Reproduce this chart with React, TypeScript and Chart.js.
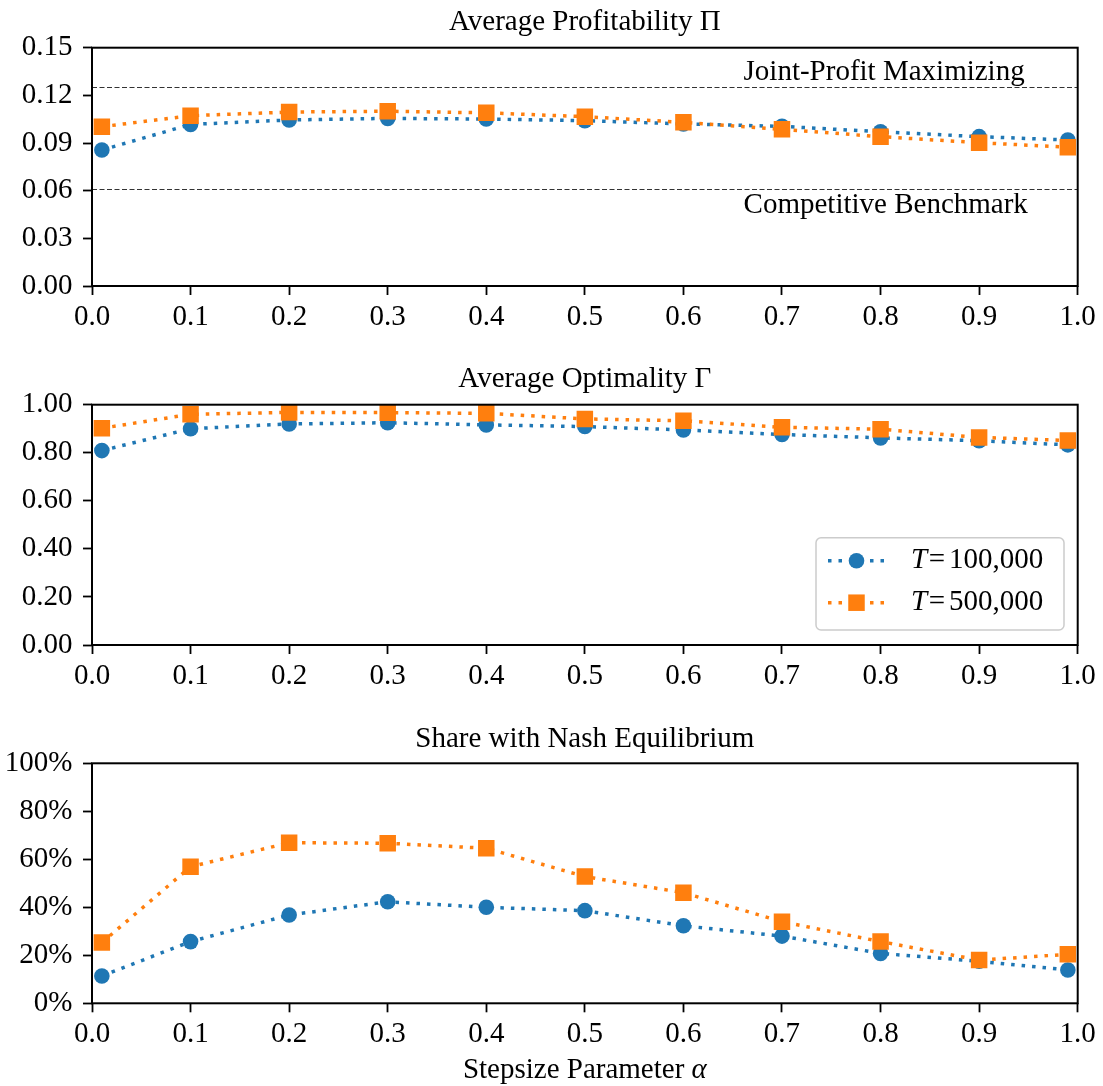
import React, { useEffect, useRef } from "react";
import { Chart, registerables } from "chart.js";

Chart.register(...registerables);

// ---------------- DATA ----------------
const alphas = [0.01, 0.1, 0.2, 0.3, 0.4, 0.5, 0.6, 0.7, 0.8, 0.9, 0.99];

const profitT100k = [0.0856, 0.1017, 0.1045, 0.1055, 0.1051, 0.1041, 0.102, 0.1005, 0.0971, 0.094, 0.0919];
const profitT500k = [0.1003, 0.1072, 0.1095, 0.11, 0.109, 0.1066, 0.103, 0.0986, 0.094, 0.0902, 0.0874];

const optimT100k = [0.809, 0.9, 0.92, 0.925, 0.916, 0.909, 0.895, 0.876, 0.862, 0.85, 0.833];
const optimT500k = [0.902, 0.96, 0.968, 0.967, 0.964, 0.941, 0.933, 0.906, 0.898, 0.864, 0.851];

const nashT100k = [0.114, 0.257, 0.368, 0.423, 0.4, 0.386, 0.323, 0.28, 0.208, 0.175, 0.139];
const nashT500k = [0.253, 0.569, 0.669, 0.667, 0.646, 0.528, 0.461, 0.34, 0.257, 0.18, 0.204];

const jointProfitLevel = 0.1255;
const competitiveLevel = 0.061;

const xTicks = [0, 0.1, 0.2, 0.3, 0.4, 0.5, 0.6, 0.7, 0.8, 0.9, 1.0];
const profitTicks = [0, 0.03, 0.06, 0.09, 0.12, 0.15];
const optimTicks = [0, 0.2, 0.4, 0.6, 0.8, 1.0];
const nashTicks = [0, 0.2, 0.4, 0.6, 0.8, 1.0];

const seriesNames = ["100,000", "500,000"];
const panelTitles = ["Average Profitability \u03A0", "Average Optimality \u0393", "Share with Nash Equilibrium"];
const refLabels = ["Joint-Profit Maximizing", "Competitive Benchmark"];
const xAxisTitle = "Stepsize Parameter ";
const xAxisSymbol = "\u03B1";

// ---------------- STYLE ----------------
const BLUE = "#1f77b4";
const ORANGE = "#ff7f0e";
const FONT = "'Liberation Serif', 'Times New Roman', serif";
const FS = 29;
const LINE_W = 3.5;
const DASH = [3.5, 7];
const CIRCLE_R = 7.8;
const SQUARE_SIDE = 16.5;

type Panel = {
  top: number;
  height: number;
  padTop: number;
  bottomSpace: number;
  blue: number[];
  orange: number[];
  yTicks: number[];
  yMax: number;
  fmt: (v: number) => string;
  title: string;
  titleBaseline: number;
  refLines?: boolean;
  legend?: boolean;
  xTitle?: boolean;
};

const panels: Panel[] = [
  {
    top: 0, height: 340, padTop: 47.7, bottomSpace: 54,
    blue: profitT100k, orange: profitT500k, yTicks: profitTicks, yMax: 0.15,
    fmt: (v) => v.toFixed(2), title: panelTitles[0], titleBaseline: 30, refLines: true,
  },
  {
    top: 340, height: 360, padTop: 64.7, bottomSpace: 55,
    blue: optimT100k, orange: optimT500k, yTicks: optimTicks, yMax: 1.0,
    fmt: (v) => v.toFixed(2), title: panelTitles[1], titleBaseline: 47.3, legend: true,
  },
  {
    top: 700, height: 386, padTop: 63.3, bottomSpace: 82.7,
    blue: nashT100k, orange: nashT500k, yTicks: nashTicks, yMax: 1.0,
    fmt: (v) => `${Math.round(v * 100)}%`, title: panelTitles[2], titleBaseline: 47.3, xTitle: true,
  },
];

function drawMarker(ctx: CanvasRenderingContext2D, kind: "circle" | "rect", x: number, y: number, color: string) {
  ctx.fillStyle = color;
  ctx.beginPath();
  if (kind === "circle") {
    ctx.arc(x, y, CIRCLE_R, 0, Math.PI * 2);
  } else {
    ctx.rect(x - SQUARE_SIDE / 2, y - SQUARE_SIDE / 2, SQUARE_SIDE, SQUARE_SIDE);
  }
  ctx.fill();
}

function makeDecor(p: Panel) {
  return {
    id: "decor",
    beforeDatasetsDraw(chart: any) {
      if (!p.refLines) return;
      const { ctx, chartArea: a } = chart;
      const ys = chart.scales.y;
      ctx.save();
      ctx.strokeStyle = "#333";
      ctx.lineWidth = 1.2;
      ctx.setLineDash([5, 2.5]);
      [jointProfitLevel, competitiveLevel].forEach((lv) => {
        const y = Math.round(ys.getPixelForValue(lv)) + 0.5;
        ctx.beginPath();
        ctx.moveTo(a.left, y);
        ctx.lineTo(a.right, y);
        ctx.stroke();
      });
      ctx.restore();
    },
    afterDatasetsDraw(chart: any) {
      const { ctx, chartArea: a } = chart;
      const xs = chart.scales.x;
      const ys = chart.scales.y;
      ctx.save();
      // frame
      ctx.setLineDash([]);
      ctx.strokeStyle = "#000";
      ctx.lineWidth = 2;
      ctx.strokeRect(a.left, a.top, a.right - a.left, a.bottom - a.top);

      ctx.fillStyle = "#000";
      ctx.textBaseline = "alphabetic";
      // title
      ctx.font = `${FS}px ${FONT}`;
      ctx.textAlign = "center";
      ctx.fillText(p.title, (a.left + a.right) / 2, p.titleBaseline);

      if (p.refLines) {
        ctx.textAlign = "left";
        const tx = xs.getPixelForValue(0.661);
        ctx.fillText(refLabels[0], tx, ys.getPixelForValue(0.1297));
        ctx.fillText(refLabels[1], tx, ys.getPixelForValue(0.0458));
      }

      if (p.xTitle) {
        ctx.font = `${FS}px ${FONT}`;
        const w1 = ctx.measureText(xAxisTitle).width;
        ctx.font = `italic ${FS}px ${FONT}`;
        const w2 = ctx.measureText(xAxisSymbol).width;
        const start = (a.left + a.right) / 2 - (w1 + w2) / 2;
        ctx.textAlign = "left";
        ctx.font = `${FS}px ${FONT}`;
        ctx.fillText(xAxisTitle, start, 378);
        ctx.font = `italic ${FS}px ${FONT}`;
        ctx.fillText(xAxisSymbol, start + w1, 378);
      }

      if (p.legend) {
        const bx = 816, bw = 248, by = a.bottom - 15 - 92.3, bh = 92.3;
        ctx.fillStyle = "rgba(255,255,255,0.8)";
        ctx.strokeStyle = "#cccccc";
        ctx.lineWidth = 1.5;
        ctx.beginPath();
        (ctx as any).roundRect(bx, by, bw, bh, 5);
        ctx.fill();
        ctx.stroke();
        const rows = [
          { color: BLUE, kind: "circle" as const, name: seriesNames[0], y: by + 23 },
          { color: ORANGE, kind: "rect" as const, name: seriesNames[1], y: by + 65 },
        ];
        rows.forEach((r) => {
          ctx.strokeStyle = r.color;
          ctx.lineWidth = LINE_W;
          ctx.setLineDash(DASH);
          ctx.beginPath();
          ctx.moveTo(828, r.y);
          ctx.lineTo(885, r.y);
          ctx.stroke();
          ctx.setLineDash([]);
          drawMarker(ctx, r.kind, 856.5, r.y, r.color);
          ctx.fillStyle = "#000";
          ctx.textAlign = "left";
          ctx.textBaseline = "middle";
          ctx.font = `italic ${FS}px ${FONT}`;
          ctx.fillText("T", 911, r.y);
          ctx.font = `${FS}px ${FONT}`;
          ctx.textAlign = "center";
          ctx.fillText("=", 937, r.y);
          ctx.textAlign = "left";
          ctx.fillText(r.name, 949, r.y);
        });
      }
      ctx.restore();
    },
  };
}

function makeConfig(p: Panel): any {
  const tickFont = { family: FONT, size: FS };
  return {
    type: "line",
    data: {
      datasets: [
        {
          label: `T = ${seriesNames[0]}`,
          data: alphas.map((x, i) => ({ x, y: p.blue[i] })),
          borderColor: BLUE,
          backgroundColor: BLUE,
          borderWidth: LINE_W,
          borderDash: DASH,
          borderCapStyle: "butt",
          pointStyle: "circle",
          pointRadius: CIRCLE_R,
          pointBorderWidth: 0,
          pointBackgroundColor: BLUE,
          tension: 0,
          fill: false,
          order: 1,
          clip: 10,
        },
        {
          label: `T = ${seriesNames[1]}`,
          data: alphas.map((x, i) => ({ x, y: p.orange[i] })),
          borderColor: ORANGE,
          backgroundColor: ORANGE,
          borderWidth: LINE_W,
          borderDash: DASH,
          borderCapStyle: "butt",
          pointStyle: "rect",
          pointRadius: SQUARE_SIDE / Math.SQRT2,
          pointBorderWidth: 0,
          pointBackgroundColor: ORANGE,
          tension: 0,
          fill: false,
          order: 0,
          clip: 10,
        },
      ],
    },
    options: {
      responsive: false,
      animation: false,
      devicePixelRatio: 1,
      events: [],
      layout: { padding: { top: p.padTop, right: 1103 - 1077.7, bottom: 0, left: 0 } },
      plugins: {
        legend: { display: false },
        tooltip: { enabled: false },
        title: { display: false },
      },
      scales: {
        x: {
          type: "linear",
          min: 0,
          max: 1,
          afterBuildTicks: (s: any) => {
            s.ticks = xTicks.map((v) => ({ value: v }));
          },
          afterFit: (s: any) => {
            s.height = p.bottomSpace;
          },
          grid: { drawOnChartArea: false, drawTicks: true, tickLength: 9, tickWidth: 1.8, tickColor: "#000" },
          border: { display: false },
          ticks: {
            color: "#000",
            font: tickFont,
            padding: 5,
            maxRotation: 0,
            autoSkip: false,
            callback: (v: number) => Number(v).toFixed(1),
          },
        },
        y: {
          type: "linear",
          min: 0,
          max: p.yMax,
          afterBuildTicks: (s: any) => {
            s.ticks = p.yTicks.map((v) => ({ value: v }));
          },
          afterFit: (s: any) => {
            s.width = 92;
          },
          grid: { drawOnChartArea: false, drawTicks: true, tickLength: 9, tickWidth: 1.8, tickColor: "#000" },
          border: { display: false },
          ticks: {
            color: "#000",
            font: tickFont,
            padding: 10.5,
            autoSkip: false,
            callback: (v: number) => p.fmt(Number(v)),
          },
        },
      },
    },
    plugins: [makeDecor(p)],
  };
}

function PanelChart({ p }: { p: Panel }) {
  const ref = useRef<HTMLCanvasElement | null>(null);
  useEffect(() => {
    if (!ref.current) return;
    const chart = new Chart(ref.current, makeConfig(p));
    return () => chart.destroy();
  }, [p]);
  return (
    <canvas
      ref={ref}
      width={1103}
      height={p.height}
      style={{ position: "absolute", left: 0, top: p.top, width: 1103, height: p.height, display: "block" }}
    />
  );
}

export default function App() {
  return (
    <div style={{ position: "absolute", left: 0, top: 0, width: 1103, height: 1086, background: "#fff" }}>
      {panels.map((p, i) => (
        <PanelChart key={i} p={p} />
      ))}
    </div>
  );
}
